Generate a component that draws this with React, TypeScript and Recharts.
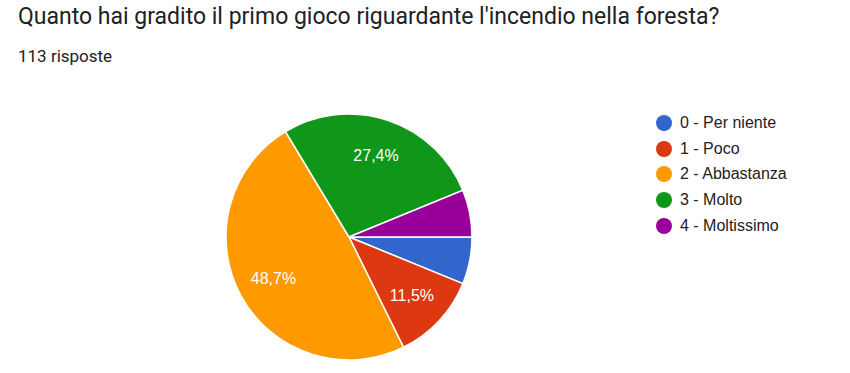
import { PieChart, Pie, Cell, Legend } from "recharts";

const labels = ["0 - Per niente", "1 - Poco", "2 - Abbastanza", "3 - Molto", "4 - Moltissimo"];
const counts = [7, 13, 55, 31, 7];
const colors = ["#3366CC", "#DC3912", "#FF9900", "#109618", "#990099"];
const total = 113;

const data = labels.map((name, i) => ({ name, value: counts[i] }));

const RAD = Math.PI / 180;

function renderLabel(props: any) {
  const { cx, cy, midAngle, outerRadius, value } = props;
  const pct = (value / total) * 100;
  if (pct < 8) return null;
  const r = outerRadius * 0.7;
  const x = cx + r * Math.cos(-midAngle * RAD);
  const y = cy + r * Math.sin(-midAngle * RAD);
  return (
    <text
      x={x}
      y={y}
      fill="#ffffff"
      textAnchor="middle"
      dominantBaseline="central"
      fontFamily="'Liberation Sans', Arial, sans-serif"
      fontSize={16}
    >
      {pct.toFixed(1).replace(".", ",")}%
    </text>
  );
}

function LegendBox() {
  return (
    <div style={{ fontFamily: "'Liberation Sans', Arial, sans-serif", fontSize: 16, color: "#222" }}>
      {data.map((d, i) => (
        <div key={d.name} style={{ display: "flex", alignItems: "center", height: 25.7 }}>
          <span
            style={{
              width: 16,
              height: 16,
              borderRadius: 8,
              background: colors[i],
              display: "inline-block",
              marginRight: 8,
            }}
          />
          <span>{d.name}</span>
        </div>
      ))}
    </div>
  );
}

export default function App() {
  return (
    <div style={{ position: "absolute", left: 0, top: 0, width: 850, height: 373, background: "#fff" }}>
      <div
        style={{
          position: "absolute",
          left: 18,
          top: 3,
          fontFamily: "Roboto, sans-serif",
          fontSize: 23,
          color: "#202124",
          whiteSpace: "nowrap",
        }}
      >
        Quanto hai gradito il primo gioco riguardante l'incendio nella foresta?
      </div>
      <div
        style={{
          position: "absolute",
          left: 18,
          top: 46,
          fontFamily: "Roboto, sans-serif",
          fontSize: 17,
          color: "#202124",
        }}
      >
        113 risposte
      </div>
      <PieChart width={850} height={373} margin={{ top: 0, right: 0, bottom: 0, left: 0 }}>
        <Pie
          data={data}
          dataKey="value"
          nameKey="name"
          cx={349}
          cy={237}
          outerRadius={123}
          startAngle={0}
          endAngle={-360}
          stroke="#ffffff"
          strokeWidth={1.5}
          label={renderLabel}
          labelLine={false}
          isAnimationActive={false}
        >
          {data.map((d, i) => (
            <Cell key={d.name} fill={colors[i]} />
          ))}
        </Pie>
        <Legend
          layout="vertical"
          align="right"
          verticalAlign="top"
          content={() => <LegendBox />}
          wrapperStyle={{ left: 656, top: 110, width: 180 }}
        />
      </PieChart>
    </div>
  );
}
